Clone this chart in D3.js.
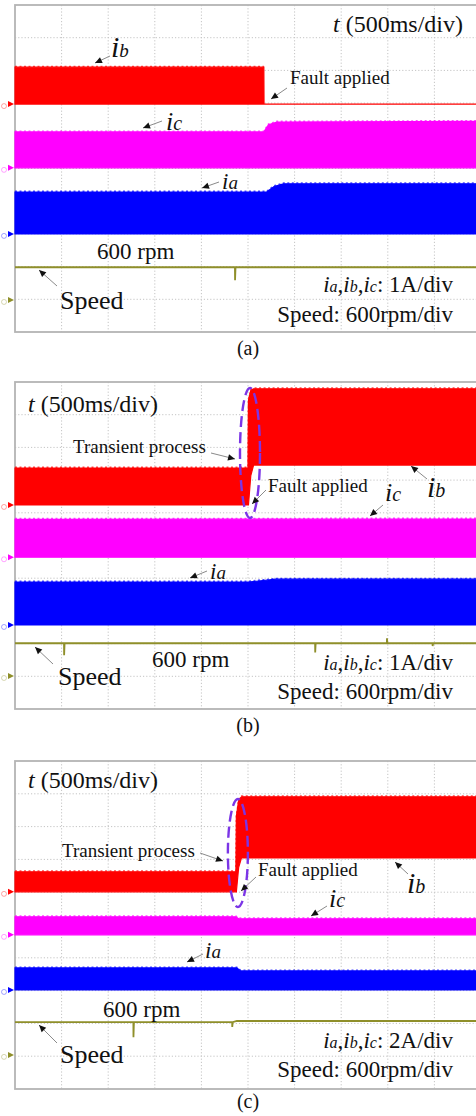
<!DOCTYPE html>
<html><head><meta charset="utf-8">
<script src="https://cdn.jsdelivr.net/npm/d3@7"></script>
<style>body{margin:0;background:#fff}svg{display:block}</style>
</head><body>
<script>
// ---------------- DATA ----------------
const panelNames = ["(a)", "(b)", "(c)"];
const timeDomain = [0, 5];            // s  (500 ms/div, 10 div)
const currentScales = [1, 1, 2];      // A/div
const speedScale = 600;               // rpm/div
const currentScaleLabels = ["1A/div", "1A/div", "2A/div"];
const faultTimes = [2.67, 2.50, 2.37];

// envelopes of the phase currents (A, relative to channel ground)
const a_ib = [{t:0,lo:0,hi:1.13},{t:2.67,lo:0,hi:1.13},{t:2.672,lo:0,hi:0},{t:5,lo:0,hi:0}];
const a_ic = [{t:0,lo:0,hi:1.10},{t:2.67,lo:0,hi:1.10},{t:2.72,lo:0,hi:1.32},{t:2.81,lo:0,hi:1.40},{t:5,lo:0,hi:1.42}];
const a_ia = [{t:0,lo:0,hi:1.28},{t:2.70,lo:0,hi:1.28},{t:2.78,lo:0,hi:1.45},{t:2.88,lo:0,hi:1.53},{t:5,lo:0,hi:1.53}];
const a_speed = [{t:0,v:600},{t:2.36,v:600},{t:2.361,v:360},{t:2.366,v:600},{t:5,v:600}];

const b_ib = [{t:0,lo:0,hi:1.13},{t:2.50,lo:0,hi:1.13},{t:2.505,lo:0,hi:3.2},{t:2.53,lo:0.9,hi:3.5},{t:2.56,lo:1.22,hi:3.55},{t:5,lo:1.22,hi:3.55}];
const b_ic = [{t:0,lo:0,hi:1.16},{t:5,lo:0,hi:1.17}];
const b_ia = [{t:0,lo:0,hi:1.31},{t:2.50,lo:0,hi:1.31},{t:2.8,lo:0,hi:1.40},{t:5,lo:0,hi:1.40}];
const b_speed = [{t:0,v:600},{t:0.526,v:600},{t:0.527,v:380},{t:0.532,v:600},{t:3.22,v:600},{t:3.221,v:430},{t:3.226,v:600},{t:3.99,v:600},{t:3.991,v:690},{t:3.996,v:600},{t:4.48,v:600},{t:4.481,v:550},{t:4.486,v:600},{t:5,v:600}];

const c_ib = [{t:0,lo:0,hi:1.22},{t:2.37,lo:0,hi:1.22},{t:2.375,lo:0,hi:4.6},{t:2.40,lo:1.5,hi:5.6},{t:2.43,lo:2.07,hi:5.8},{t:5,lo:2.07,hi:5.8}];
const c_ic = [{t:0,lo:0,hi:1.10},{t:2.37,lo:0,hi:1.10},{t:2.40,lo:0,hi:0.98},{t:5,lo:0,hi:0.98}];
const c_ia = [{t:0,lo:0,hi:1.34},{t:2.38,lo:0,hi:1.34},{t:2.42,lo:0,hi:1.16},{t:5,lo:0,hi:1.16}];
const c_speed = [{t:0,v:600},{t:1.27,v:600},{t:1.271,v:325},{t:1.276,v:600},{t:2.33,v:600},{t:2.331,v:510},{t:2.336,v:600},{t:2.38,v:620},{t:5,v:620}];

// ---------------- LAYOUT / STYLE ----------------
const W = 476, H = 1116;
const FONT = "'Liberation Serif','Times New Roman',serif";
const colors = {ib:"#ff0000", ic:"#ff00ff", ia:"#0000ff", speed:"#8f8f2a", grid:"#c4c4c4", frame:"#b4b4b4", ellipse:"#7b35e6"};

const panels = [
  {top:5, h:327, grounds:{ib:3.03, ic:4.98, ia:7.0, speed:9.02}, ib:a_ib, ic:a_ic, ia:a_ia, speed:a_speed},
  {top:382, h:327, grounds:{ib:3.76, ic:5.36, ia:7.43, speed:8.99}, ib:b_ib, ic:b_ic, ia:b_ia, speed:b_speed},
  {top:761, h:328, grounds:{ib:3.99, ic:5.30, ia:6.98, speed:8.96}, ib:c_ib, ic:c_ic, ia:c_ia, speed:c_speed}
];

const svg = d3.select("body").append("svg").attr("width", W).attr("height", H)
  .style("font-family", FONT);

const x = d3.scaleLinear().domain(timeDomain).range([15, 481]);

function arrow(g, x1, y1, x2, y2) {
  g.append("line").attr("x1", x1).attr("y1", y1).attr("x2", x2).attr("y2", y2)
    .attr("stroke", "#8a8a8a").attr("stroke-width", 1);
  const ang = Math.atan2(y2 - y1, x2 - x1) * 180 / Math.PI;
  g.append("path").attr("d", "M0,0 L-7,-3.2 L-7,3.2 Z").attr("fill", "#111")
    .attr("transform", `translate(${x2},${y2}) rotate(${ang})`);
}
function iLabel(g, px, py, sub, big, small) {
  const t = g.append("text").attr("x", px).attr("y", py).attr("font-style", "italic").attr("fill", "#111");
  t.append("tspan").attr("font-size", big).text("i");
  t.append("tspan").attr("font-size", small).text(sub);
}
function plainText(g, px, py, size, str, anchor) {
  return g.append("text").attr("x", px).attr("y", py).attr("font-size", size)
    .attr("text-anchor", anchor || "start").attr("fill", "#111").text(str);
}
function timeLabel(g, px, py, anchor) {
  const t = g.append("text").attr("x", px).attr("y", py).attr("font-size", 24)
    .attr("text-anchor", anchor).attr("fill", "#111");
  t.append("tspan").attr("font-style", "italic").text("t");
  t.append("tspan").text(" (500ms/div)");
}
function scaleLabel(g, px, py, unitText) {
  const t = g.append("text").attr("x", px).attr("y", py).attr("font-size", 23)
    .attr("text-anchor", "end").attr("fill", "#111");
  ["a", "b", "c"].forEach((s, i) => {
    t.append("tspan").attr("font-style", "italic").text("i");
    t.append("tspan").attr("font-style", "italic").attr("font-size", 16).text(s);
    t.append("tspan").text(i < 2 ? "," : ": " + unitText);
  });
}

panels.forEach((p, pi) => {
  const g = svg.append("g");
  const yDiv = d3.scaleLinear().domain([0, 10]).range([p.top, p.top + p.h]);
  const cs = currentScales[pi];

  // grid
  g.selectAll(".vg").data(d3.range(0.5, 5, 0.5)).join("line")
    .attr("x1", d => x(d)).attr("x2", d => x(d)).attr("y1", p.top).attr("y2", p.top + p.h)
    .attr("stroke", colors.grid).attr("stroke-width", 1).attr("stroke-dasharray", "1.2,2");
  g.selectAll(".hg").data(d3.range(1, 10)).join("line")
    .attr("x1", x(0)).attr("x2", x(5)).attr("y1", d => yDiv(d)).attr("y2", d => yDiv(d))
    .attr("stroke", colors.grid).attr("stroke-width", 1).attr("stroke-dasharray", "1.2,2");
  g.append("rect").attr("x", x(0)).attr("y", p.top).attr("width", x(5) - x(0)).attr("height", p.h)
    .attr("fill", "none").attr("stroke", colors.frame).attr("stroke-width", 1.8);

  // current bands
  ["ib", "ic", "ia"].forEach(k => {
    const gr = p.grounds[k];
    const yv = v => yDiv(gr - v / cs);
    const area = d3.area().x(d => x(d.t)).y0(d => yv(d.lo)).y1(d => yv(d.hi));
    g.append("path").datum(p[k]).attr("d", area).attr("fill", colors[k])
      .attr("stroke", colors[k]).attr("stroke-width", 1.2);
    const top = p[k].filter(d => d.hi > 0.05);
    g.append("path").datum(top)
      .attr("d", d3.line().x(d => x(d.t)).y(d => yv(d.hi) - 0.8))
      .attr("fill", "none").attr("stroke", colors[k]).attr("stroke-width", 1.4)
      .attr("stroke-dasharray", "2,2.5").attr("opacity", 0.7);
    // channel marker
    g.append("path").attr("d", `M8,${yv(0) - 3} L14,${yv(0)} L8,${yv(0) + 3} Z`).attr("fill", colors[k]);
    g.append("circle").attr("cx", 4).attr("cy", yv(0) + 2).attr("r", 2.5)
      .attr("fill", "none").attr("stroke", colors[k]).attr("stroke-opacity", 0.35);
  });

  // speed
  const sg = p.grounds.speed;
  const ys = v => yDiv(sg - v / speedScale);
  g.append("path").datum(p.speed)
    .attr("d", d3.line().x(d => x(d.t)).y(d => ys(d.v)))
    .attr("fill", "none").attr("stroke", colors.speed).attr("stroke-width", 1.8);
  g.append("path").attr("d", `M8,${ys(0) - 3} L14,${ys(0)} L8,${ys(0) + 3} Z`).attr("fill", colors.speed);
  g.append("circle").attr("cx", 4).attr("cy", ys(0) + 2).attr("r", 2.5)
    .attr("fill", "none").attr("stroke", colors.speed).attr("stroke-opacity", 0.35);

  // caption
  plainText(svg, 248, pi === 0 ? 355 : pi === 1 ? 732 : 1108, 20, panelNames[pi], "middle");

  // transient ellipse (b, c)
  if (pi > 0) {
    const ft = faultTimes[pi];
    const cy = pi === 1 ? 453 : 853, ry = pi === 1 ? 65 : 54;
    g.append("ellipse").attr("cx", x(ft) + 2).attr("cy", cy).attr("rx", 10).attr("ry", ry)
      .attr("fill", "none").attr("stroke", colors.ellipse).attr("stroke-width", 2.4)
      .attr("stroke-dasharray", "11,5");
  }
});

// ---------------- ANNOTATIONS ----------------
const ann = svg.append("g");
// panel (a)
timeLabel(ann, 463, 32, "end");
iLabel(ann, 111, 57, "b", 30, 19); arrow(ann, 110, 56, 95, 63);
plainText(ann, 290, 84, 19, "Fault applied"); arrow(ann, 287, 88, 271, 99);
iLabel(ann, 166, 130, "c", 26, 20); arrow(ann, 162, 121, 143, 128);
iLabel(ann, 222, 189, "a", 23, 19); arrow(ann, 219, 182, 202, 188);
plainText(ann, 97, 259, 23, "600 rpm");
plainText(ann, 60, 309, 26, "Speed"); arrow(ann, 57, 286, 39, 270);
scaleLabel(ann, 453, 292, currentScaleLabels[0]);
plainText(ann, 453, 322, 23, "Speed: 600rpm/div", "end");

// panel (b)
timeLabel(ann, 28, 412, "start");
plainText(ann, 73, 453, 19, "Transient process"); arrow(ann, 211, 453, 235, 459);
plainText(ann, 268, 492, 19, "Fault applied"); arrow(ann, 266, 490, 252, 504);
iLabel(ann, 385, 501, "c", 26, 20); arrow(ann, 383, 505, 370, 516);
iLabel(ann, 427, 497, "b", 30, 20); arrow(ann, 427, 479, 411, 466);
iLabel(ann, 210, 579, "a", 23, 19); arrow(ann, 207, 571, 190, 578);
plainText(ann, 152, 667, 23, "600 rpm");
plainText(ann, 58, 685, 26, "Speed"); arrow(ann, 53, 664, 35, 647);
scaleLabel(ann, 453, 670, currentScaleLabels[1]);
plainText(ann, 453, 699, 23, "Speed: 600rpm/div", "end");

// panel (c)
timeLabel(ann, 28, 788, "start");
plainText(ann, 62, 857, 19, "Transient process"); arrow(ann, 200, 853, 223, 861);
plainText(ann, 258, 876, 19, "Fault applied"); arrow(ann, 256, 877, 241, 891);
iLabel(ann, 407, 893, "b", 30, 20); arrow(ann, 408, 874, 395, 862);
iLabel(ann, 329, 907, "c", 26, 20); arrow(ann, 327, 906, 311, 916);
iLabel(ann, 205, 958, "a", 23, 19); arrow(ann, 203, 954, 187, 962);
plainText(ann, 103, 1017, 23, "600 rpm");
plainText(ann, 60, 1063, 26, "Speed"); arrow(ann, 57, 1043, 39, 1025);
scaleLabel(ann, 453, 1048, currentScaleLabels[2]);
plainText(ann, 453, 1077, 23, "Speed: 600rpm/div", "end");
</script>
</body></html>
